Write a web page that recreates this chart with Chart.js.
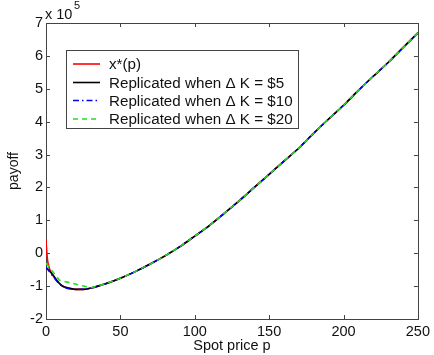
<!DOCTYPE html>
<html>
<head>
<meta charset="utf-8">
<script src="https://cdn.jsdelivr.net/npm/chart.js@4/dist/chart.umd.min.js"></script>
<style>
  html, body { margin: 0; padding: 0; background: #fff; }
  #wrap { width: 434px; height: 355px; position: relative; }
</style>
</head>
<body>
<div id="wrap"><canvas id="c" width="434" height="355"></canvas></div>
<script>
// ---- data (payoff in units of 10^5) ----
const seriesLabels = ['x*(p)', 'Replicated when \u0394 K = $5', 'Replicated when \u0394 K = $10', 'Replicated when \u0394 K = $20'];

const redP   = [0, 0.5, 1, 2, 3, 5, 8, 10, 12, 15, 20, 25, 30, 35, 40, 50, 60, 70, 80, 90, 100, 110, 120, 130, 140, 150, 160, 170, 180, 190, 200, 210, 220, 230, 240, 250];
const redY   = [0.40, 0.05, -0.2, -0.42, -0.55, -0.70, -0.87, -0.96, -1.02, -1.06, -1.10, -1.10, -1.06, -1.00, -0.93, -0.76, -0.56, -0.33, -0.08, 0.20, 0.52, 0.85, 1.22, 1.60, 2.00, 2.40, 2.80, 3.20, 3.65, 4.08, 4.50, 4.95, 5.38, 5.80, 6.25, 6.70];

const blackP = [0, 2, 5, 8, 10, 12, 15, 20, 25, 30, 35, 40, 50, 60, 70, 80, 90, 100, 110, 120, 130, 140, 150, 160, 170, 180, 190, 200, 210, 220, 230, 240, 250];
const blackY = [-0.43, -0.52, -0.68, -0.87, -0.96, -1.02, -1.06, -1.10, -1.10, -1.06, -1.00, -0.93, -0.76, -0.56, -0.33, -0.08, 0.20, 0.52, 0.85, 1.22, 1.60, 2.00, 2.40, 2.80, 3.20, 3.65, 4.08, 4.50, 4.95, 5.38, 5.80, 6.25, 6.70];

const blueP  = [0, 10, 20, 30, 40, 50, 60, 70, 80, 90, 100, 110, 120, 130, 140, 150, 160, 170, 180, 190, 200, 210, 220, 230, 240, 250];
const blueY  = [-0.43, -0.97, -1.10, -1.06, -0.93, -0.76, -0.56, -0.33, -0.08, 0.20, 0.52, 0.85, 1.22, 1.60, 2.00, 2.40, 2.80, 3.20, 3.65, 4.08, 4.50, 4.95, 5.38, 5.80, 6.25, 6.70];

const greenP = [0, 9, 30, 40, 50, 60, 70, 80, 90, 100, 110, 120, 130, 140, 150, 160, 170, 180, 190, 200, 210, 220, 230, 240, 250];
const greenY = [-0.30, -0.82, -1.05, -0.93, -0.76, -0.56, -0.33, -0.08, 0.20, 0.52, 0.85, 1.22, 1.60, 2.00, 2.40, 2.80, 3.20, 3.65, 4.08, 4.50, 4.95, 5.38, 5.80, 6.25, 6.70];

const xTicks = [0, 50, 100, 150, 200, 250];
const yTicks = [-2, -1, 0, 1, 2, 3, 4, 5, 6, 7];

const FONT = "'Liberation Sans', Arial, Helvetica, sans-serif";
const AXIS_COLOR = '#444';

function pts(xs, ys) { return xs.map((x, i) => ({ x: x, y: ys[i] })); }

// inward ticks + full box, MATLAB style
const boxPlugin = {
  id: 'boxTicks',
  beforeDatasetsDraw(chart) {
    const { ctx, chartArea: a, scales } = chart;
    ctx.save();
    ctx.strokeStyle = AXIS_COLOR;
    ctx.lineWidth = 1;
    ctx.beginPath();
    const L = 4;
    xTicks.forEach(v => {
      const px = Math.round(scales.x.getPixelForValue(v)) + 0.5;
      ctx.moveTo(px, a.bottom); ctx.lineTo(px, a.bottom - L);
      ctx.moveTo(px, a.top); ctx.lineTo(px, a.top + L);
    });
    yTicks.forEach(v => {
      const py = Math.round(scales.y.getPixelForValue(v)) + 0.5;
      ctx.moveTo(a.left, py); ctx.lineTo(a.left + L, py);
      ctx.moveTo(a.right, py); ctx.lineTo(a.right - L, py);
    });
    ctx.stroke();
    ctx.strokeRect(Math.round(a.left) + 0.5, Math.round(a.top) + 0.5, Math.round(a.right - a.left), Math.round(a.bottom - a.top));
    ctx.restore();
  },
  afterDraw(chart) {
    const { ctx, chartArea: a } = chart;
    ctx.save();
    // exponent label
    ctx.fillStyle = '#111';
    ctx.textBaseline = 'alphabetic';
    ctx.textAlign = 'left';
    ctx.font = '14.5px ' + FONT;
    ctx.fillText('x 10', a.left - 1, 19);
    ctx.font = '11px ' + FONT;
    ctx.fillText('5', a.left + 28, 9);

    // legend
    const lx = 66.5, ly = 50.5, lw = 232, lh = 78;
    ctx.fillStyle = '#fff';
    ctx.fillRect(lx, ly, lw, lh);
    ctx.strokeStyle = AXIS_COLOR;
    ctx.lineWidth = 1;
    ctx.strokeRect(lx, ly, lw, lh);
    const rows = [64, 82.5, 100.5, 119];
    ctx.font = '15.2px ' + FONT;
    ctx.textBaseline = 'middle';
    chart.data.datasets.forEach((ds, i) => {
      const y = rows[i];
      ctx.beginPath();
      ctx.strokeStyle = ds.borderColor;
      ctx.lineWidth = ds.borderWidth;
      ctx.setLineDash(ds.borderDash || []);
      ctx.moveTo(73, y); ctx.lineTo(100, y);
      ctx.stroke();
      ctx.setLineDash([]);
      ctx.fillStyle = '#111';
      ctx.fillText(ds.label, 109, y + 1);
    });
    ctx.restore();
  }
};

new Chart(document.getElementById('c'), {
  type: 'line',
  data: {
    datasets: [
      { label: seriesLabels[0], data: pts(redP, redY), borderColor: '#ff0000', borderWidth: 1.6, order: 3 },
      { label: seriesLabels[1], data: pts(blackP, blackY), borderColor: '#000000', borderWidth: 1.6, order: 2 },
      { label: seriesLabels[2], data: pts(blueP, blueY), borderColor: '#0000ff', borderWidth: 1.4, borderDash: [6, 3, 1.5, 3], order: 1 },
      { label: seriesLabels[3], data: pts(greenP, greenY), borderColor: '#22dd22', borderWidth: 1.6, borderDash: [5, 4], order: 0,
        cubicInterpolationMode: 'default', tension: 0 }
    ]
  },
  options: {
    responsive: false,
    animation: false,
    events: [],
    parsing: true,
    elements: { point: { radius: 0 }, line: { cubicInterpolationMode: 'monotone', fill: false } },
    layout: { padding: { left: 0, right: 12, top: 23, bottom: 0 } },
    plugins: { legend: { display: false }, tooltip: { enabled: false } },
    scales: {
      x: {
        type: 'linear', min: 0, max: 250,
        afterBuildTicks: s => { s.ticks = xTicks.map(v => ({ value: v })); },
        afterFit: s => { s.height = 36; },
        grid: { display: false, drawTicks: false },
        border: { display: false },
        ticks: { color: '#111', font: { family: FONT, size: 14.5 }, padding: 4, maxRotation: 0, autoSkip: false },
        title: { display: true, text: 'Spot price p', color: '#111', font: { family: FONT, size: 14.5 }, padding: { top: 0, bottom: 0 } }
      },
      y: {
        type: 'linear', min: -2, max: 7,
        afterBuildTicks: s => { s.ticks = yTicks.map(v => ({ value: v })); },
        afterFit: s => { s.width = 46; },
        grid: { display: false, drawTicks: false },
        border: { display: false },
        ticks: { color: '#111', font: { family: FONT, size: 14.5 }, padding: 3, autoSkip: false,
                 callback: v => String(v).replace('\u2212', '-') },
        title: { display: true, text: 'payoff', color: '#111', font: { family: FONT, size: 14 }, padding: { top: 6, bottom: 0 } }
      }
    }
  },
  plugins: [boxPlugin]
});
</script>
</body>
</html>
